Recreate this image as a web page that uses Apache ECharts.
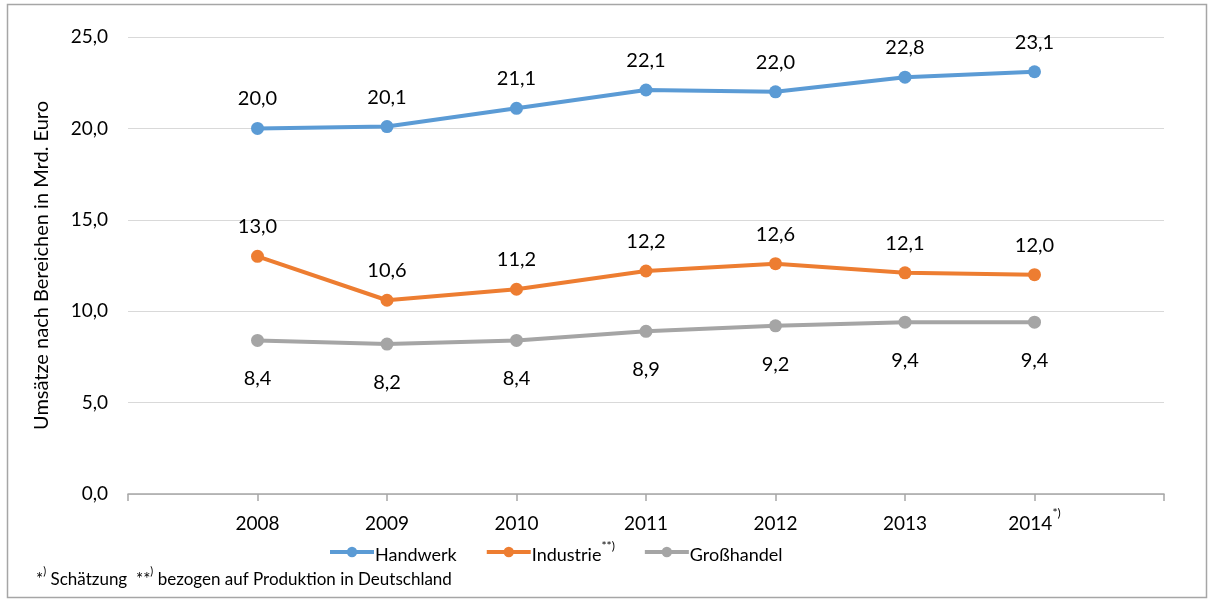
<!DOCTYPE html>
<html>
<head>
<meta charset="utf-8">
<script src="https://cdn.jsdelivr.net/npm/echarts@6/dist/echarts.min.js"></script>
<style>html,body{margin:0;padding:0;background:#fff;}#c{width:1214px;height:602px;}</style>
</head>
<body>
<div id="c"></div>
<script>
var years = [2008, 2009, 2010, 2011, 2012, 2013, 2014];
var handwerk = [20.0, 20.1, 21.1, 22.1, 22.0, 22.8, 23.1];
var industrie = [13.0, 10.6, 11.2, 12.2, 12.6, 12.1, 12.0];
var grosshandel = [8.4, 8.2, 8.4, 8.9, 9.2, 9.4, 9.4];
var seriesNames = ['Handwerk', 'Industrie', 'Großhandel'];
var yTicks = [0, 5, 10, 15, 20, 25];

var FONT = 'Lato, "Open Sans", sans-serif';
function de(v) { return v.toFixed(1).replace('.', ','); }
function pts(arr) { return years.map(function (y, i) { return [y, arr[i]]; }); }

var chart = echarts.init(document.getElementById('c'));
function mk(name, arr, color, pos) {
  return {
    name: name, type: 'line', data: pts(arr),
    symbol: 'circle', symbolSize: 13,
    lineStyle: { color: color, width: 4 },
    itemStyle: { color: color },
    label: { show: true, position: pos, distance: pos === 'top' ? 13 : 22,
      formatter: function (p) { return de(p.value[1]); },
      color: '#000', fontSize: 20, fontFamily: FONT }
  };
}
chart.setOption({
  animation: false,
  backgroundColor: '#fff',
  graphic: [
    { type: 'rect', shape: { x: 7.5, y: 4.5, width: 1199, height: 593 },
      style: { fill: 'none', stroke: '#A6A6A6', lineWidth: 1.5 } },
    { type: 'text', left: 36, top: 566,
      style: { rich: {
        n: { fontSize: 17, fontFamily: FONT, fill: '#000', lineHeight: 22, verticalAlign: 'bottom' },
        s: { fontSize: 11, fontFamily: FONT, fill: '#000', lineHeight: 11, verticalAlign: 'top' }
      }, text: '{n|*}{s|)}{n| Schätzung  **}{s|)}{n| bezogen auf Produktion in Deutschland}' } }
  ],
  grid: { left: 128, right: 50, top: 37, bottom: 108 },
  xAxis: {
    type: 'value', min: 2007, max: 2015, interval: 1,
    splitLine: { show: false },
    axisLine: { lineStyle: { color: '#A6A6A6', width: 1.5 } },
    axisTick: { show: true, inside: false, length: 7, lineStyle: { color: '#A6A6A6', width: 1.5 } },
    axisLabel: {
      margin: 13, color: '#000', fontSize: 19, fontFamily: FONT,
      formatter: function (v) {
        if (v < 2008 || v > 2014) return '';
        if (v === 2014) return '{n|2014}{s|*)}';
        return '{n|' + v + '}';
      },
      rich: {
        n: { fontSize: 19, fontFamily: FONT, color: '#000', lineHeight: 26, verticalAlign: 'bottom' },
        s: { fontSize: 12, fontFamily: FONT, color: '#000', lineHeight: 12, verticalAlign: 'top' }
      }
    }
  },
  yAxis: {
    type: 'value', min: 0, max: 25, interval: 5,
    name: 'Umsätze nach Bereichen in Mrd. Euro', nameLocation: 'middle', nameGap: 76,
    nameTextStyle: { fontSize: 20, fontFamily: FONT, color: '#000' },
    axisLine: { show: false }, axisTick: { show: false },
    splitLine: { lineStyle: { color: '#D9D9D9', width: 1.2 } },
    axisLabel: { margin: 20, color: '#000', fontSize: 19, fontFamily: FONT,
      formatter: function (v) { return de(v); } }
  },
  legend: {
    left: 323, top: 535, itemWidth: 44, itemHeight: 13, itemGap: 28,
    data: seriesNames,
    lineStyle: { width: 4 },
    formatter: function (n) { return n === 'Industrie' ? '{n|Industrie}{s|**)}' : '{n|' + n + '}'; },
    textStyle: { fontSize: 18, fontFamily: FONT, color: '#000', padding: [0,0,0,-4],
      rich: {
        n: { fontSize: 18, fontFamily: FONT, color: '#000', lineHeight: 24, verticalAlign: 'bottom' },
        s: { fontSize: 12, fontFamily: FONT, color: '#000', lineHeight: 12, verticalAlign: 'top' }
      } }
  },
  series: [
    mk(seriesNames[0], handwerk, '#5B9BD5', 'top'),
    mk(seriesNames[1], industrie, '#ED7D31', 'top'),
    mk(seriesNames[2], grosshandel, '#A5A5A5', 'bottom')
  ]
});
</script>
</body>
</html>
